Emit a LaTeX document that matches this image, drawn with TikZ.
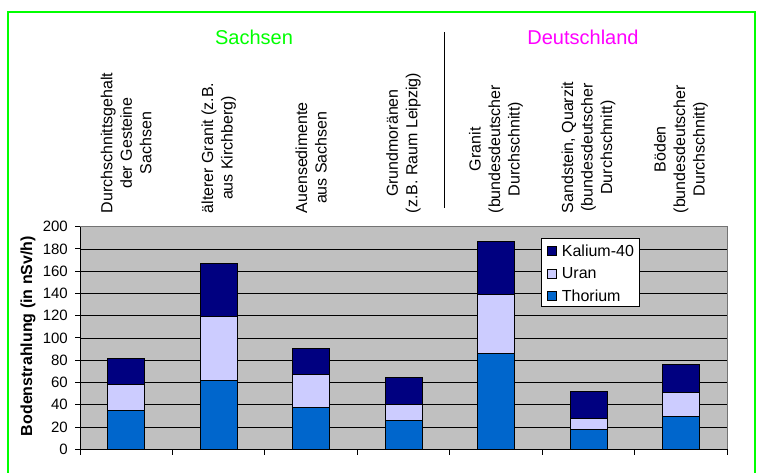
\documentclass[tikz,border=0pt]{standalone}
\usepackage{fontspec}
\setmainfont{Liberation Sans}
\definecolor{thor}{HTML}{0066CC}
\definecolor{uran}{HTML}{CCCCFF}
\definecolor{kal}{HTML}{000080}
\definecolor{plotgray}{HTML}{C0C0C0}
\definecolor{framegreen}{HTML}{00FF00}
\definecolor{deu}{HTML}{FF00FF}
\begin{document}
\begin{tikzpicture}[x=1pt,y=-1pt,
  cat/.style={rotate=90, anchor=west, align=center, inner sep=0pt, font=\fontsize{16}{19.5}\selectfont},
  ticklab/.style={anchor=east, inner sep=0pt, font=\fontsize{15}{18}\selectfont},
  legsq/.style={draw=black, line width=0.6pt, minimum size=9pt, inner sep=0pt},
  legtxt/.style={anchor=west, inner sep=0pt, font=\fontsize{16}{19}\selectfont},
  barseg/.style={draw=black, line width=0.8pt},
  title/.style={font=\fontsize{20}{24}\selectfont, inner sep=0pt}]
\useasboundingbox (0,0) rectangle (758,472);
\fill[white] (0,0) rectangle (758,472);
\draw[framegreen, line width=2pt] (8.3,474) -- (8.3,11.7) -- (755,11.7) -- (755,474);
% titles
\node[title, text=framegreen] (sachsen) at (254,37) {Sachsen};
\node[title, text=deu] (deutsch) at (583,37) {Deutschland};
\coordinate (sepT) at (444.7,32);
\coordinate (sepB) at (444.7,208);
\draw[line width=0.8pt] (sepT) -- (sepB);
% category labels
\node[cat] (c1) at (126.2,213.5) {Durchschnittsgehalt\\der Gesteine\\Sachsen};
\node[cat] (c2) at (218.7,213.5) {älterer Granit (z.B.\\aus Kirchberg)};
\node[cat] (c3) at (311.2,213.5) {Auensedimente\\aus Sachsen};
\node[cat] (c4) at (403.6,213.5) {Grundmoränen\\(z.B. Raum Leipzig)};
\node[cat] (c5) at (496.1,213.5) {Granit\\(bundesdeutscher\\Durchschnitt)};
\node[cat] (c6) at (588.6,213.5) {Sandstein, Quarzit\\(bundesdeutscher\\Durchschnitt)};
\node[cat] (c7) at (681.0,213.5) {Böden\\(bundesdeutscher\\Durchschnitt)};
% y label
\node[rotate=90, inner sep=0pt, font=\bfseries\fontsize{16}{19}\selectfont] (ylab) at (28,336) {Bodenstrahlung (in nSv/h)};
% plot
\begin{scope}[shift={(80,449.3)}, x=1pt, y=1.1133pt]
  \fill[plotgray] (0,0) rectangle (647.3,200);
  \foreach \v in {20,40,...,180} \draw[line width=0.8pt] (0,\v) -- (647.3,\v);
  \draw[line width=0.8pt, black!55] (0,200) -- (647.3,200) -- (647.3,0);
  \foreach \i/\t/\u/\k in {0/35/58/82, 1/62/119/167, 2/38/67/91, 3/26/40/65, 4/86/139/187, 5/18/28/52, 6/30/51/76} {
    \pgfmathsetmacro\cl{92.47*\i+46.24-18.65}
    \pgfmathsetmacro\cr{92.47*\i+46.24+18.65}
    \draw[barseg, fill=thor] (\cl,0) rectangle (\cr,\t);
    \draw[barseg, fill=uran] (\cl,\t) rectangle (\cr,\u);
    \draw[barseg, fill=kal] (\cl,\u) rectangle (\cr,\k);
  }
  \draw[line width=1pt] (0,0) -- (0,200);
  \draw[line width=1pt] (0,0) -- (647.3,0);
  \foreach \v in {0,20,...,200} {
    \draw[line width=1pt] (-5,\v) -- (0,\v);
    \node[ticklab] (t\v) at (-12,\v) {\v};
  }
  \foreach \j in {0,...,7} \draw[line width=1pt] ({92.47*\j},0) -- ({92.47*\j},-5);
\end{scope}
% legend
\node[draw=black, line width=0.8pt, fill=white, anchor=north west, minimum width=97.4pt, minimum height=67.4pt, inner sep=0pt] (legend) at (541.3,238.3) {};
\node[legsq, fill=kal] (lk) at (551.3,251) {};
\node[legsq, fill=uran] (lu) at (551.3,273.3) {};
\node[legsq, fill=thor] (lt) at (551.3,295.7) {};
\node[legtxt] (lkt) at (561.7,251) {Kalium-40};
\node[legtxt] (lut) at (561.7,273.3) {Uran};
\node[legtxt] (ltt) at (561.7,295.7) {Thorium};
\end{tikzpicture}
\end{document}
